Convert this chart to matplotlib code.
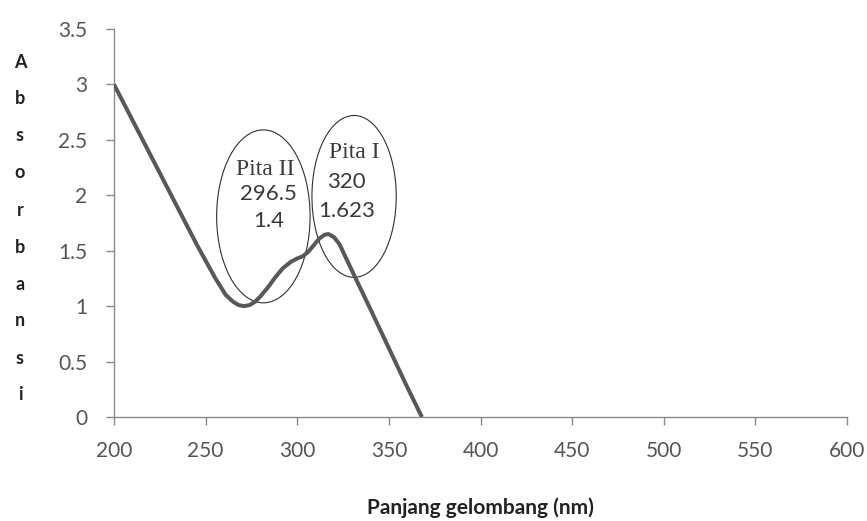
import numpy as np
import matplotlib.pyplot as plt
from matplotlib.patches import Ellipse

# absorbance spectrum
wavelength = [200, 210, 220, 230, 240, 245, 250, 255, 258, 261, 265, 268, 271, 274,
              277, 280, 284, 288, 292, 296.5, 300, 303, 306, 309, 312, 315, 317,
              320, 323, 327, 331, 340, 350, 360, 368]
absorbance = [3.0, 2.68, 2.36, 2.04, 1.72, 1.56, 1.41, 1.26, 1.18, 1.10, 1.04, 1.01, 1.00, 1.01,
              1.04, 1.09, 1.17, 1.26, 1.34, 1.40, 1.43, 1.45, 1.49, 1.55, 1.61, 1.645, 1.65,
              1.623, 1.56, 1.42, 1.28, 0.97, 0.62, 0.27, 0.0]

xticks = np.arange(200, 601, 50)
yticks = [0, 0.5, 1, 1.5, 2, 2.5, 3, 3.5]
ylabel = "Absorbansi"

fig = plt.figure(figsize=(8.67, 5.21), dpi=100)
ax = fig.add_axes([0.1315, 0.1996, 0.8455, 0.7447])

ax.plot(wavelength, absorbance, color="#585858", lw=2.9,
        solid_joinstyle="round", solid_capstyle="butt", zorder=3)

# ellipses around the two bands
ax.add_patch(Ellipse((281.5, 1.81), 51, 1.56, fill=False, ec="#303030", lw=0.8, zorder=2))
ax.add_patch(Ellipse((331.0, 1.99), 46, 1.46, fill=False, ec="#303030", lw=0.8, zorder=2))

txt = dict(ha="center", va="center", color="#3a3a3a", zorder=4)
ax.text(282.4, 2.23, "Pita II", family="Liberation Serif", fontsize=17, **txt)
ax.text(284.4, 2.01, "296.5", family="Lato", fontsize=16, **txt)
ax.text(284.2, 1.77, "1.4", family="Lato", fontsize=16, **txt)
ax.text(331.0, 2.39, "Pita I", family="Liberation Serif", fontsize=17, **txt)
ax.text(327.0, 2.12, "320", family="Lato", fontsize=16, **txt)
ax.text(327.0, 1.86, "1.623", family="Lato", fontsize=16, **txt)

ax.set_xlim(200, 600)
ax.set_ylim(0, 3.5)
ax.set_xticks(xticks)
ax.set_yticks(yticks)
ax.set_yticklabels([f"{v:g}" for v in yticks])
for s in ["top", "right"]:
    ax.spines[s].set_visible(False)
for s in ["left", "bottom"]:
    ax.spines[s].set_color("#8a8a8a")
    ax.spines[s].set_linewidth(1.0)
ax.tick_params(direction="out", length=6, width=1.0, color="#8a8a8a",
               labelcolor="#555555", labelsize=15)
ax.tick_params(axis="y", pad=13)
ax.tick_params(axis="x", pad=11)
for lab in ax.get_xticklabels() + ax.get_yticklabels():
    lab.set_family("Lato")

fig.text(480.5 / 867, 7 / 521, "Panjang gelombang (nm)", ha="center", va="baseline",
         family="Lato", fontweight="bold", fontsize=15, color="#222222")

# y label stacked one letter per line
for i, ch in enumerate(ylabel):
    fig.text(20 / 867, 1 - (62 + i * 37) / 521, ch, ha="center", va="center",
             family="Lato", fontweight="bold", fontsize=13, color="#222222")

fig.savefig("out.png", dpi=100)
